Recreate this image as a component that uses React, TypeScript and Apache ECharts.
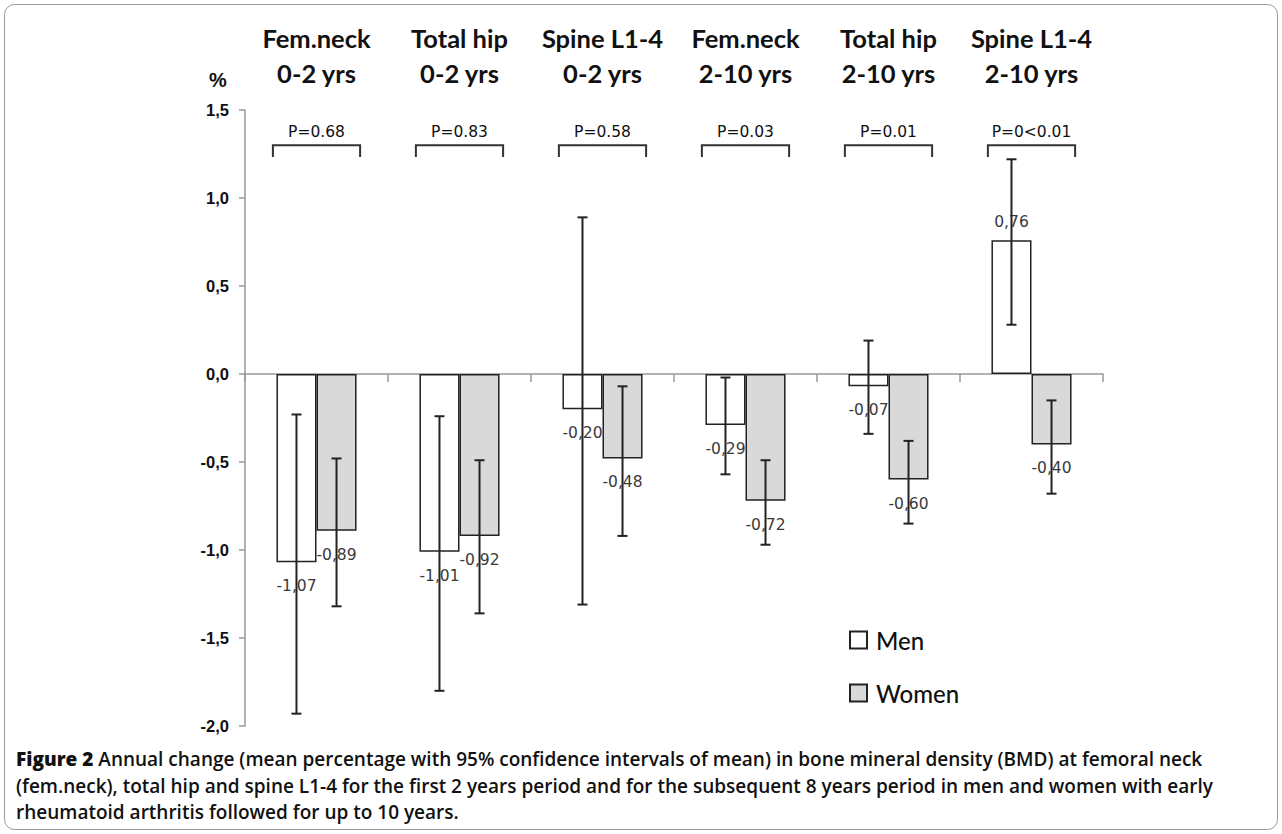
import React, { useEffect, useRef } from "react";
import * as echarts from "echarts";

const categories = [
  "Fem.neck\n0-2 yrs",
  "Total hip\n0-2 yrs",
  "Spine L1-4\n0-2 yrs",
  "Fem.neck\n2-10 yrs",
  "Total hip\n2-10 yrs",
  "Spine L1-4\n2-10 yrs",
];
const menMean = [-1.07, -1.01, -0.2, -0.29, -0.07, 0.76];
const womenMean = [-0.89, -0.92, -0.48, -0.72, -0.6, -0.4];
const menLow = [-1.93, -1.8, -1.31, -0.57, -0.34, 0.28];
const menHigh = [-0.23, -0.24, 0.89, -0.02, 0.19, 1.22];
const womenLow = [-1.32, -1.36, -0.92, -0.97, -0.85, -0.68];
const womenHigh = [-0.48, -0.49, -0.07, -0.49, -0.38, -0.15];
const pLabels = ["P=0.68", "P=0.83", "P=0.58", "P=0.03", "P=0.01", "P=0<0.01"];
const yMin = -2;
const yMax = 1.5;
const yInterval = 0.5;
const bracketTop = 1.3;
const bracketLeg = 1.233;
const pTextLevel = 1.375;
const captionLines = [
  "{b|Figure 2} Annual change (mean percentage with 95% confidence intervals of mean) in bone mineral density (BMD) at femoral neck",
  "(fem.neck), total hip and spine L1-4 for the first 2 years period and for the subsequent 8 years period in men and women with early",
  "rheumatoid arthritis followed for up to 10 years.",
];

const fmt = (v: number) => v.toFixed(2).replace(".", ",");

function barData(vals: number[]) {
  return vals.map((v) => ({
    value: v,
    label: { position: v < 0 ? "bottom" : "top", distance: v < 0 ? 16 : 10 },
  }));
}

function errorSeries(low: number[], high: number[], sign: number) {
  return {
    type: "custom",
    z: 5,
    silent: true,
    encode: { x: 0, y: [1, 2] },
    data: low.map((l, i) => [i, l, high[i]]),
    renderItem: (params: any, api: any) => {
      const i = api.value(0);
      const lo = api.coord([i, api.value(1)]);
      const hi = api.coord([i, api.value(2)]);
      const bw = api.size([1, 0])[0];
      const x = lo[0] + sign * bw * 0.14;
      const cap = 5;
      const st = { stroke: "#222", lineWidth: 2 };
      return {
        type: "group",
        children: [
          { type: "line", shape: { x1: x, y1: lo[1], x2: x, y2: hi[1] }, style: st },
          { type: "line", shape: { x1: x - cap, y1: lo[1], x2: x + cap, y2: lo[1] }, style: st },
          { type: "line", shape: { x1: x - cap, y1: hi[1], x2: x + cap, y2: hi[1] }, style: st },
        ],
      };
    },
  };
}

export default function App() {
  const ref = useRef<HTMLDivElement>(null);
  useEffect(() => {
    document.body.style.margin = "0";
    const chart = echarts.init(ref.current!, null, { renderer: "svg" });
    const labelCommon = {
      show: true,
      formatter: (p: any) => fmt(p.value),
      fontSize: 15.5,
      color: "#3a3a3a",
      fontFamily: "DejaVu Sans",
    };
    chart.setOption({
      animation: false,
      backgroundColor: "#fff",
      grid: { left: 245, right: 179, top: 110, bottom: 108, containLabel: false },
      legend: {
        data: ["Men", "Women"],
        orient: "vertical",
        left: 844,
        top: 622,
        icon: "rect",
        itemWidth: 17,
        itemHeight: 17,
        itemGap: 27,
        selectedMode: false,
        textStyle: {
          fontSize: 24,
          fontFamily: "Lato",
          fontWeight: 500,
          color: "#111",
          lineHeight: 26,
          padding: [0, 0, 0, 4],
        },
      },
      xAxis: [
        {
          type: "category",
          data: categories,
          axisLine: { onZero: true, lineStyle: { color: "#999", width: 1.5 } },
          axisTick: { show: true, length: 8, lineStyle: { color: "#999", width: 1.5 } },
          axisLabel: { show: false },
        },
        {
          type: "category",
          data: categories,
          position: "top",
          axisLine: { show: false },
          axisTick: { show: false },
          axisLabel: {
            interval: 0,
            fontSize: 25.5,
            fontWeight: "bold",
            fontFamily: "Lato",
            color: "#111",
            lineHeight: 35,
            margin: 20,
          },
        },
      ],
      yAxis: {
        type: "value",
        min: yMin,
        max: yMax,
        interval: yInterval,
        splitLine: { show: false },
        axisLine: { show: true, lineStyle: { color: "#999", width: 1.5 } },
        axisTick: { show: true, length: 6, lineStyle: { color: "#999", width: 1.5 } },
        axisLabel: {
          formatter: (v: number) => v.toFixed(1).replace(".", ","),
          fontSize: 16.5,
          fontWeight: "bold",
          fontFamily: "Liberation Sans",
          color: "#111",
          margin: 16,
        },
      },
      series: [
        {
          name: "Men",
          type: "bar",
          z: 2,
          barGap: "0%",
          barCategoryGap: "44%",
          data: barData(menMean),
          itemStyle: { color: "#ffffff", borderColor: "#222", borderWidth: 1.5 },
          label: labelCommon,
        },
        {
          name: "Women",
          type: "bar",
          z: 2,
          barGap: "0%",
          barCategoryGap: "44%",
          data: barData(womenMean),
          itemStyle: { color: "#d9d9d9", borderColor: "#222", borderWidth: 1.5 },
          label: labelCommon,
        },
        errorSeries(menLow, menHigh, -1),
        errorSeries(womenLow, womenHigh, 1),
        {
          type: "custom",
          silent: true,
          encode: { x: 0, y: 1 },
          data: pLabels.map((_, i) => [i, bracketTop]),
          renderItem: (params: any, api: any) => {
            const i = api.value(0);
            const top = api.coord([i, bracketTop]);
            const leg = api.coord([i, bracketLeg]);
            const txt = api.coord([i, pTextLevel]);
            const bw = api.size([1, 0])[0];
            const hw = bw * 0.305;
            return {
              type: "group",
              children: [
                {
                  type: "polyline",
                  shape: {
                    points: [
                      [top[0] - hw, leg[1]],
                      [top[0] - hw, top[1]],
                      [top[0] + hw, top[1]],
                      [top[0] + hw, leg[1]],
                    ],
                  },
                  style: { stroke: "#333", lineWidth: 2, fill: "none" },
                },
                {
                  type: "text",
                  style: {
                    text: pLabels[params.dataIndex],
                    x: txt[0],
                    y: txt[1],
                    textAlign: "center",
                    textVerticalAlign: "middle",
                    fontSize: 15.5,
                    fontFamily: "DejaVu Sans",
                    fill: "#111",
                  },
                },
              ],
            };
          },
        },
      ],
      graphic: [
        {
          type: "rect",
          silent: true,
          shape: { x: 4.5, y: 4.5, width: 1273, height: 825, r: 10 },
          style: { fill: "none", stroke: "#999", lineWidth: 1 },
        },
        {
          type: "text",
          silent: true,
          style: {
            text: "%",
            x: 218,
            y: 80,
            textAlign: "center",
            textVerticalAlign: "middle",
            fontSize: 20,
            fontWeight: "bold",
            fontFamily: "Liberation Sans",
            fill: "#111",
          },
        },
        ...captionLines.map((t, k) => ({
          type: "text",
          silent: true,
          style: {
            text: t,
            x: 16,
            y: 759 + k * 26.5,
            textAlign: "left",
            textVerticalAlign: "middle",
            fontSize: 19,
            fontWeight: 600,
            fontFamily: "Open Sans",
            fill: "#111",
            rich: {
              b: { fontSize: 19, fontWeight: 800, fontFamily: "Open Sans", fill: "#111" },
            },
          },
        })),
      ],
    });
    return () => chart.dispose();
  }, []);
  return <div ref={ref} style={{ width: 1282, height: 834 }} />;
}
